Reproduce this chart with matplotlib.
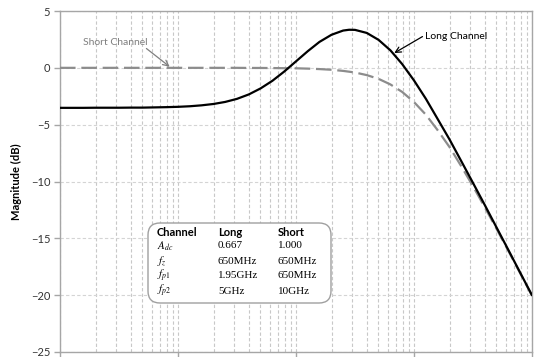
import matplotlib
matplotlib.use("Agg")
import matplotlib.pyplot as plt
from matplotlib.patches import FancyBboxPatch
from matplotlib.transforms import Affine2D
from matplotlib.ticker import LogLocator, NullFormatter

plt.rcParams["font.family"] = ["Lato", "DejaVu Sans"]
plt.rcParams["mathtext.fontset"] = "stix"

# Frequency samples (GHz)
freq_ghz = [0.01, 0.0126, 0.0158, 0.02, 0.0251, 0.0316, 0.0398, 0.0501, 0.0631, 0.0794,
            0.1, 0.126, 0.158, 0.2, 0.251, 0.316, 0.398, 0.501, 0.631, 0.794,
            1.0, 1.26, 1.58, 2.0, 2.51, 2.82, 3.16, 3.98, 5.01, 6.31, 7.94,
            10.0, 12.6, 15.8, 20.0, 25.1, 31.6, 39.8, 50.1, 63.1, 79.4, 100.0]

# Magnitude response (dB)
long_db = [-3.52, -3.52, -3.52, -3.51, -3.51, -3.51, -3.50, -3.50, -3.48, -3.46,
           -3.43, -3.38, -3.30, -3.18, -3.00, -2.73, -2.34, -1.81, -1.14, -0.33,
           0.57, 1.47, 2.28, 2.91, 3.28, 3.35, 3.34, 3.07, 2.46, 1.54, 0.33,
           -1.11, -2.72, -4.47, -6.30, -8.19, -10.12, -12.07, -14.05, -16.03, -18.02, -20.01]
short_db = [0.00, 0.00, 0.00, 0.00, 0.00, 0.00, 0.00, 0.00, 0.00, 0.00,
            0.00, 0.00, 0.00, 0.00, 0.00, 0.00, -0.01, -0.01, -0.02, -0.03,
            -0.04, -0.07, -0.11, -0.17, -0.27, -0.34, -0.41, -0.64, -0.97, -1.46, -2.12,
            -3.01, -4.12, -5.46, -6.97, -8.64, -10.41, -12.27, -14.17, -16.11, -18.07, -20.04]

y_ticks = [5, 0, -5, -10, -15, -20, -25]

# Parameter table
table_header = ["Channel", "Long", "Short"]
param_symbols = [r"$A_{dc}$", r"$f_z$", r"$f_{p1}$", r"$f_{p2}$"]
long_params = ["0.667", "650MHz", "1.95GHz", "5GHz"]
short_params = ["1.000", "650MHz", "650MHz", "10GHz"]

W, H = 539, 357
fig = plt.figure(figsize=(W / 100, H / 100), dpi=100)
ax = fig.add_axes([60 / W, 1 - 352 / H, 472 / W, 341 / H])

freq_hz = [f * 1e9 for f in freq_ghz]
ax.plot(freq_hz, long_db, color="black", lw=1.6, solid_capstyle="round", zorder=4)
ax.plot(freq_hz, short_db, color="#8c8c8c", lw=1.6, dashes=(7, 2.6), zorder=3)

ax.set_xscale("log")
ax.set_xlim(1e7, 1e11)
ax.set_ylim(-25, 5)
ax.set_yticks(y_ticks)
ax.xaxis.set_major_locator(LogLocator(base=10, numticks=10))
ax.xaxis.set_major_formatter(NullFormatter())
ax.xaxis.set_minor_locator(LogLocator(base=10, subs=range(2, 10), numticks=50))
ax.xaxis.set_minor_formatter(NullFormatter())
ax.tick_params(axis="x", which="major", length=5, width=1, color="#a6a6a6", direction="out")
ax.tick_params(axis="x", which="minor", length=0)
ax.tick_params(axis="y", length=4, width=1, color="#a6a6a6", direction="out",
               labelsize=8, labelcolor="#333333", pad=3)

ax.grid(True, which="both", axis="x", color="#c8c8c8", lw=0.8, dashes=(3, 2))
ax.grid(True, which="major", axis="y", color="#d4d4d4", lw=0.8, dashes=(3, 2))
ax.set_axisbelow(True)
for s in ax.spines.values():
    s.set_color("#a6a6a6")
    s.set_linewidth(1)

ax.set_ylabel("Magnitude (dB)", fontsize=8, fontweight="bold")
ax.yaxis.set_label_coords(-38 / 472, 0.5)

# Curve callouts
ax.text(15.7e6, 2.2, "Short Channel", fontsize=7.5, color="#7f7f7f", va="center", ha="left")
ax.annotate("", xy=(85e6, 0.1), xytext=(54e6, 1.7),
            arrowprops=dict(arrowstyle="->", color="#7f7f7f", lw=0.9,
                            shrinkA=0, shrinkB=0))
ax.text(12.4e9, 2.8, "Long Channel", fontsize=7.5, color="black", va="center", ha="left")
ax.annotate("", xy=(6.8e9, 1.3), xytext=(11.8e9, 2.75),
            arrowprops=dict(arrowstyle="->", color="black", lw=0.9,
                            shrinkA=0, shrinkB=0))

# Parameter box, placed in pixel coordinates from the top-left corner
px = Affine2D().scale(1, -1).translate(0, H)
box = FancyBboxPatch((148, 223), 183, 80, boxstyle="round,pad=0,rounding_size=12",
                     facecolor="white", edgecolor="#a0a0a0", lw=1, transform=px, zorder=5)
fig.add_artist(box)

col_x = [157, 218, 278]
for x, t in zip(col_x, table_header):
    fig.text(x, 232, t, transform=px, fontsize=8, fontweight="bold",
             va="center", ha="left", zorder=6)
row_y = [246, 261, 276, 291]
for y, sym, lv, sv in zip(row_y, param_symbols, long_params, short_params):
    fig.text(157, y, sym, transform=px, fontsize=8, va="center", ha="left", zorder=6)
    fig.text(col_x[1], y, lv, transform=px, fontsize=8, family="Liberation Serif",
             va="center", ha="left", zorder=6)
    fig.text(col_x[2], y, sv, transform=px, fontsize=8, family="Liberation Serif",
             va="center", ha="left", zorder=6)

fig.savefig("out.png", dpi=100)
